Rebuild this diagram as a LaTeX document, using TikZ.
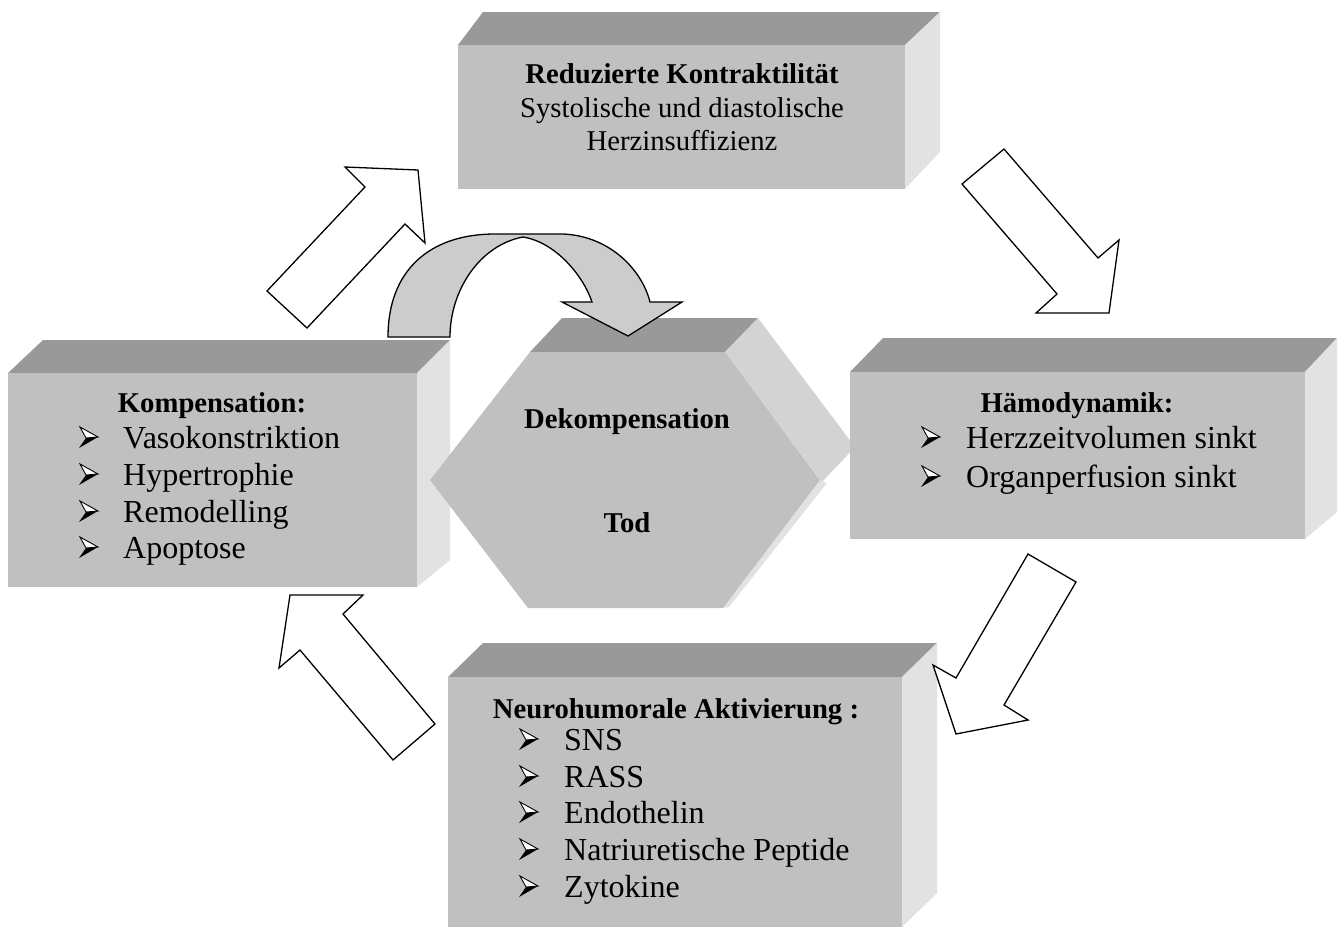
\documentclass[tikz,border=0pt]{standalone}
\usepackage{fontspec}
\setmainfont{Liberation Serif}
\definecolor{topgray}{HTML}{999999}
\definecolor{frontgray}{HTML}{C0C0C0}
\definecolor{sidegray}{HTML}{E2E2E2}
\definecolor{hexside}{HTML}{D3D3D3}
\definecolor{curvegray}{HTML}{CCCCCC}
\begin{document}
\begin{tikzpicture}[x=1pt,y=-1pt,
  topface/.style={fill=topgray},
  frontface/.style={fill=frontgray},
  sideface/.style={fill=sidegray},
  blockarrow/.style={draw=black,fill=white,line width=1.3pt,line join=miter},
  curvearrow/.style={draw=black,fill=curvegray,line width=1.3pt,line join=miter},
  head/.style={font=\fontsize{28.7}{34}\selectfont\bfseries,anchor=base,inner sep=0pt},
  body/.style={font=\fontsize{28.7}{34}\selectfont,anchor=base,inner sep=0pt},
  item/.style={font=\fontsize{32}{38}\selectfont,anchor=base west,inner sep=0pt},
  arrbullet/.pic={
    \fill[black] (7,-10) -- (19,-11) -- (0,0) -- cycle;
    \draw[black,fill=white,line width=0.9pt,line join=miter] (1,-21) -- (19,-11) -- (7,-10) -- cycle;
  }]
\useasboundingbox (0,0) rectangle (1338,927);

% ---------- top box ----------
\fill[topface] (458,45) -- (483,12) -- (940,12) -- (905,45) -- cycle;
\fill[sideface] (905,45) -- (940,12) -- (940,152) -- (905,189) -- cycle;
\fill[frontface] (458,45) rectangle (905,189);
\node[head] (t1) at (682,83) {Reduzierte Kontraktilität};
\node[body] (t2) at (682,117) {Systolische und diastolische};
\node[body] (t3) at (682,150) {Herzinsuffizienz};

% ---------- left box ----------
\fill[topface] (8,373) -- (43,340) -- (450,340) -- (417,373) -- cycle;
\fill[sideface] (417,373) -- (450,340) -- (450,560) -- (417,587) -- cycle;
\fill[frontface] (8,373) rectangle (417,587);
\node[head] (k0) at (212,412) {Kompensation:};
\foreach \t/\y [count=\i] in {Vasokonstriktion/448,Hypertrophie/485,Remodelling/522,Apoptose/558}{
  \pic at (79,\y) {arrbullet};
  \node[item] (k\i) at (123,\y) {\t};
}

% ---------- hexagon ----------
\fill[topface] (530,352) -- (562,318) -- (758,318) -- (725,352) -- cycle;
\fill[hexside] (725,352) -- (758,318) -- (855,447) -- (822,482) -- cycle;
\fill[sidegray] (820,480) -- (827,483) -- (729,607) -- (723,608) -- cycle;
\fill[frontface] (530,352) -- (725,352) -- (820,480) -- (723,608) -- (528,608) -- (430,480) -- cycle;
\node[head] (d1) at (627,428) {Dekompensation};
\node[head] (d2) at (627,532) {Tod};

% ---------- right box ----------
\fill[topface] (850,372) -- (883,338) -- (1337,338) -- (1305,372) -- cycle;
\fill[sideface] (1305,372) -- (1337,338) -- (1337,512) -- (1305,539) -- cycle;
\fill[frontface] (850,372) rectangle (1305,539);
\node[head] (h0) at (1077,412) {Hämodynamik:};
\foreach \t/\y [count=\i] in {Herzzeitvolumen sinkt/448,Organperfusion sinkt/487}{
  \pic at (921,\y) {arrbullet};
  \node[item] (h\i) at (966,\y) {\t};
}

% ---------- bottom box ----------
\fill[topface] (448,677) -- (483,643) -- (937,643) -- (902,677) -- cycle;
\fill[sideface] (902,677) -- (937,643) -- (937,893) -- (902,927) -- cycle;
\fill[frontface] (448,677) rectangle (902,927);
\node[head] (n0) at (676,718) {Neurohumorale Aktivierung :};
\foreach \t/\y [count=\i] in {SNS/750,RASS/787,Endothelin/823,Natriuretische Peptide/860,Zytokine/897}{
  \pic at (519,\y) {arrbullet};
  \node[item] (n\i) at (564,\y) {\t};
}

% ---------- curved arrow ----------
\draw[curvearrow] (388,337) .. controls (388,270) and (430,234) .. (495,234)
  -- (563,234) .. controls (610,236) and (642,270) .. (650,302)
  -- (682,302) -- (628,336) -- (562,302) -- (592,302)
  .. controls (583,275) and (555,242) .. (523,237)
  .. controls (480,245) and (450,290) .. (450,337) -- cycle;

% ---------- block arrows ----------
\draw[blockarrow] (267,291) -- (365,187) -- (345,167) -- (418,170) -- (425,243) -- (405,224) -- (307,328) -- cycle;
\draw[blockarrow] (962,184) -- (1004,149) -- (1098,258) -- (1119,240) -- (1109,313) -- (1036,313) -- (1057,294) -- cycle;
\draw[blockarrow] (1028,554) -- (1076,582) -- (1004,705) -- (1028,720) -- (956,734) -- (933,665) -- (956,678) -- cycle;
\draw[blockarrow] (435,724) -- (393,760) -- (300,650) -- (279,668) -- (290,595) -- (363,595) -- (343,614) -- cycle;
\end{tikzpicture}
\end{document}
